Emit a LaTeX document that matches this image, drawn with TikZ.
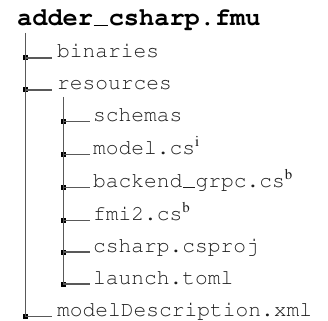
\documentclass[tikz,border=0pt]{standalone}
\usepackage[T1]{fontenc}
\usepackage{times}
\begin{document}
% underscore drawn as a rule on the baseline, one character wide
\newcommand{\lowbar}{\makebox[0.62em]{\rule{0.58em}{0.045em}}}
\begin{tikzpicture}[x=1pt,y=-1pt]
\tikzset{
  entry/.style={anchor=base west, inner sep=0pt, text=black!88,
    font=\ttfamily\fontsize{21.25}{24}\selectfont},
  rootname/.style={anchor=base west, inner sep=0pt,
    font=\ttfamily\bfseries\fontsize{25.3}{28}\selectfont},
  branch/.style={draw=black!65, line width=1.1pt},
  joint/.style={fill=black, draw=none, minimum size=5pt, inner sep=0pt},
}
\useasboundingbox (0,0) rectangle (328,320);

% folder contents, one row per entry
\node[rootname] (root) at (17,26) {adder\lowbar csharp.fmu};
\node[entry] (bin)   at (57,58)    {binaries};
\node[entry] (res)   at (57,90)    {resources};
\node[entry] (sch)   at (93,121.7) {schemas};
\node[entry] (model) at (93,154.3) {model.cs\textsuperscript{\rmfamily i}};
\node[entry] (back)  at (93,187.5) {backend\lowbar grpc.cs\textsuperscript{\rmfamily b}};
\node[entry] (fmi)   at (93,220.5) {fmi2.cs\textsuperscript{\rmfamily b}};
\node[entry] (proj)  at (93,252)   {csharp.csproj};
\node[entry] (toml)  at (93,284)   {launch.toml};
\node[entry] (desc)  at (57,316.7) {modelDescription.xml};

% trunk of the top-level folder
\coordinate (trunkTop) at (25.3,33);
\node[joint] (jBin)  at (trunkTop |- bin.base) {};
\node[joint] (jRes)  at (trunkTop |- res.base) {};
\node[joint] (jDesc) at (trunkTop |- desc.base) {};
\draw[branch] (trunkTop) -- (jDesc.center);

% trunk of the resources folder
\coordinate (subTop) at (63.3,97);
\node[joint] (jSch)   at (subTop |- sch.base) {};
\node[joint] (jModel) at (subTop |- model.base) {};
\node[joint] (jBack)  at (subTop |- back.base) {};
\node[joint] (jFmi)   at (subTop |- fmi.base) {};
\node[joint] (jProj)  at (subTop |- proj.base) {};
\node[joint] (jToml)  at (subTop |- toml.base) {};
\draw[branch] (subTop) -- (jToml.center);

% branches from the trunks to the entries
\foreach \j/\n in {jBin/bin, jRes/res, jDesc/desc}
  \draw[branch] (\j.center) -- ([xshift=-5pt]\n.base west);
\foreach \j/\n in {jSch/sch, jModel/model, jBack/back, jFmi/fmi,
                   jProj/proj, jToml/toml}
  \draw[branch] (\j.center) -- ([xshift=-3.5pt]\n.base west);
\end{tikzpicture}
\end{document}
